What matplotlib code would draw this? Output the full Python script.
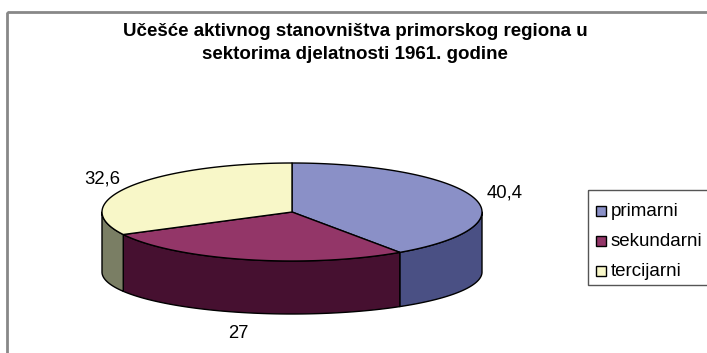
import matplotlib.pyplot as plt
import numpy as np
from matplotlib.patches import Polygon, Rectangle

plt.rcParams['font.family'] = ['Liberation Sans', 'DejaVu Sans']

# Data
categories = ["primarni", "sekundarni", "tercijarni"]
values = [40.4, 27, 32.6]
value_labels = ["40,4", "27", "32,6"]
title = "Učešće aktivnog stanovništva primorskog regiona u\nsektorima djelatnosti 1961. godine"

top_colors = ["#8a90c7", "#933668", "#f8f7c8"]
side_colors = ["#4a5084", "#461030", "#7a7e64"]

# Geometry of the 3D pie in pixel coordinates (y grows downward)
cx, cy = 292, 212          # centre of top ellipse
a, b = 190, 49             # semi-axes of top ellipse
cy_bot, b_bot = 272, 42    # centre and semi-minor axis of the bottom ellipse


def top_pt(t):
    return cx + a * np.cos(t), cy - b * np.sin(t)


def bot_pt(t):
    return cx + a * np.cos(t), cy_bot - b_bot * np.sin(t)


def front_parts(t1, t2):
    # parts of the angle range [t2, t1] (degrees) that face the viewer
    parts = []
    for k in range(-1, 2):
        lo, hi = -180 - 360 * k, -360 * k
        s, e = max(t2, lo), min(t1, hi)
        if e > s:
            parts.append((s, e))
    return parts


fig = plt.figure(figsize=(7.07, 3.53), dpi=100)
ax = fig.add_axes([0, 0, 1, 1])
ax.set_xlim(0, 707)
ax.set_ylim(353, 0)
ax.axis("off")

# chart frame
ax.add_patch(Rectangle((7, 12), 720, 360, fill=False, edgecolor="#888888", lw=2))

total = sum(values)
fracs = np.cumsum([0] + values) / total
starts = 90 - 360 * fracs[:-1]
ends = 90 - 360 * fracs[1:]

# side walls
for i in range(len(values)):
    for s, e in front_parts(starts[i], ends[i]):
        t = np.radians(np.linspace(s, e, 100))
        xs, ys = top_pt(t)
        xb, yb = bot_pt(t[::-1])
        pts = np.column_stack([np.concatenate([xs, xb]), np.concatenate([ys, yb])])
        ax.add_patch(Polygon(pts, closed=True, facecolor=side_colors[i],
                             edgecolor="black", lw=1, joinstyle="round"))

# top faces
for i in range(len(values)):
    t = np.radians(np.linspace(starts[i], ends[i], 200))
    xs, ys = top_pt(t)
    pts = np.column_stack([np.concatenate([[cx], xs]), np.concatenate([[cy], ys])])
    ax.add_patch(Polygon(pts, closed=True, facecolor=top_colors[i],
                         edgecolor="black", lw=1, joinstyle="round"))

# value labels placed outward from the middle of each slice
for i in range(len(values)):
    m = np.radians((starts[i] + ends[i]) / 2)
    lx = cx + 1.17 * a * np.cos(m)
    ly = cy - 1.3 * b * np.sin(m)
    if np.sin(m) < 0:
        ly += cy_bot - cy
    ax.text(lx, ly, value_labels[i], fontsize=13.3, ha="center", va="center")

ax.text(355, 43, title, fontsize=13.5, fontweight="bold", ha="center",
        va="center", linespacing=1.42)

# legend
ax.add_patch(Rectangle((588, 190), 140, 95, fill=False, edgecolor="#555555", lw=1))
for i, name in enumerate(categories):
    y = 211 + i * 30
    ax.add_patch(Rectangle((596, y - 5), 10, 10, facecolor=top_colors[i],
                           edgecolor="black", lw=1))
    ax.text(611, y, name, fontsize=13.5, ha="left", va="center")

fig.savefig("out.png", dpi=100)
